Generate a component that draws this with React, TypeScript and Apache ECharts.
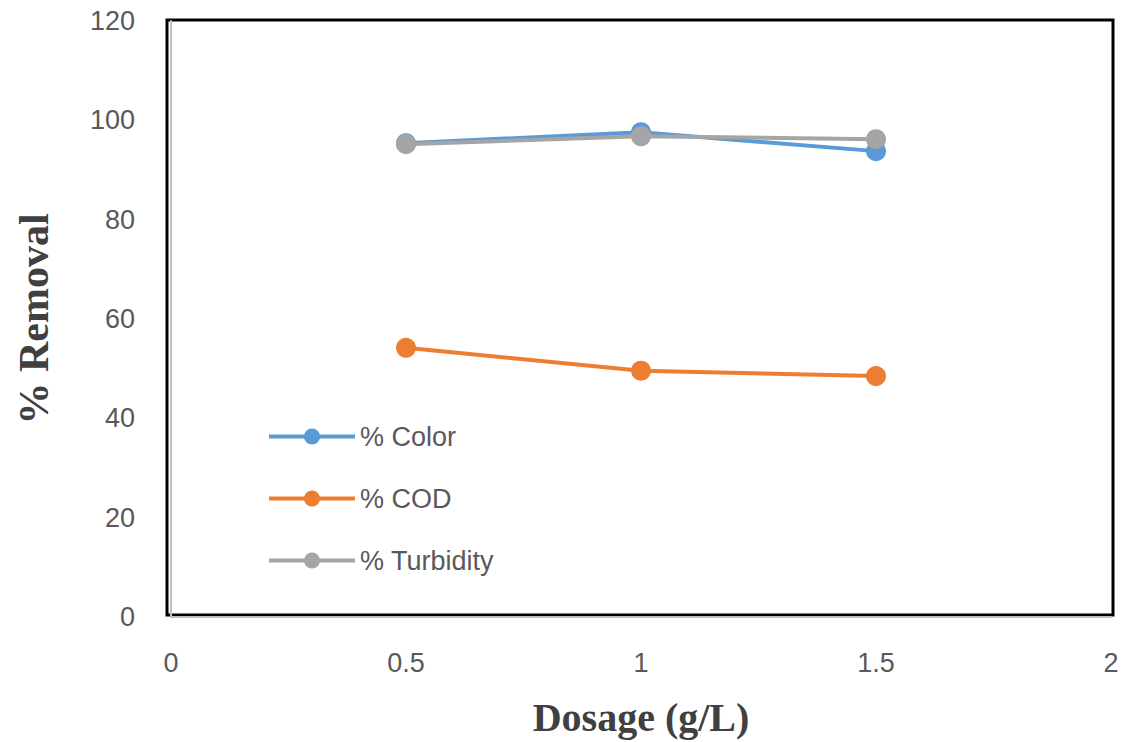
import React, { useEffect, useRef } from "react";
import * as echarts from "echarts";

const dosage = [0.5, 1, 1.5];
const colorRemoval = [95.4, 97.6, 93.8];
const codRemoval = [54.2, 49.6, 48.5];
const turbidityRemoval = [95.2, 96.8, 96.2];
const seriesNames = ["% Color", "% COD", "% Turbidity"];
const seriesColors = ["#5B9BD5", "#ED7D31", "#A5A5A5"];

const pairs = (ys: number[]) => dosage.map((x, i) => [x, ys[i]]);

export default function App() {
  const ref = useRef<HTMLDivElement>(null);
  useEffect(() => {
    if (!ref.current) return;
    const chart = echarts.init(ref.current, null, { renderer: "svg" });
    const values = [colorRemoval, codRemoval, turbidityRemoval];
    chart.setOption({
      animation: false,
      backgroundColor: "#fff",
      grid: [
        { left: 171, right: 13, top: 21, bottom: 125, show: false, outerBoundsMode: "none", containLabel: false },
        { left: 167, right: 11, top: 20, bottom: 127, show: true, borderColor: "#000", borderWidth: 3, backgroundColor: "transparent", outerBoundsMode: "none", containLabel: false },
      ],
      legend: {
        orient: "vertical",
        left: 262,
        top: 418,
        itemWidth: 86,
        itemHeight: 20,
        itemGap: 35,
        lineStyle: { width: 4 },
        textStyle: { fontFamily: "Liberation Sans", fontSize: 27, color: "#595959" },
        data: seriesNames,
      },
      xAxis: [
        {
          type: "value",
          gridIndex: 0,
          min: 0,
          max: 2,
          interval: 0.5,
          name: "Dosage (g/L)",
          nameLocation: "middle",
          nameGap: 80,
          nameTextStyle: { fontFamily: "Liberation Serif", fontWeight: "bold", fontSize: 40, color: "#404040" },
          axisLine: { show: true, lineStyle: { color: "#BFBFBF", width: 2 } },
          axisTick: { show: false },
          splitLine: { show: false },
          axisLabel: { fontFamily: "Liberation Sans", fontSize: 27, color: "#595959", margin: 32 },
        },
        { type: "value", gridIndex: 1, show: false, min: 0, max: 1 },
      ],
      yAxis: [
        {
          type: "value",
          gridIndex: 0,
          min: 0,
          max: 120,
          interval: 20,
          name: "% Removal",
          nameLocation: "middle",
          nameGap: 116,
          nameTextStyle: { fontFamily: "Liberation Serif", fontWeight: "bold", fontSize: 42, color: "#404040" },
          axisLine: { show: true, lineStyle: { color: "#BFBFBF", width: 2 } },
          axisTick: { show: false },
          splitLine: { show: false },
          axisLabel: { fontFamily: "Liberation Sans", fontSize: 27, color: "#595959", margin: 36 },
        },
        { type: "value", gridIndex: 1, show: false, min: 0, max: 1 },
      ],
      series: seriesNames.map((name, i) => ({
        name,
        type: "line",
        xAxisIndex: 0,
        yAxisIndex: 0,
        data: pairs(values[i]),
        symbol: "circle",
        symbolSize: 20,
        itemStyle: { color: seriesColors[i] },
        lineStyle: { color: seriesColors[i], width: 4 },
      })),
    });
    return () => chart.dispose();
  }, []);
  return <div ref={ref} style={{ width: 1124, height: 742, position: "absolute", left: 0, top: 0 }} />;
}
